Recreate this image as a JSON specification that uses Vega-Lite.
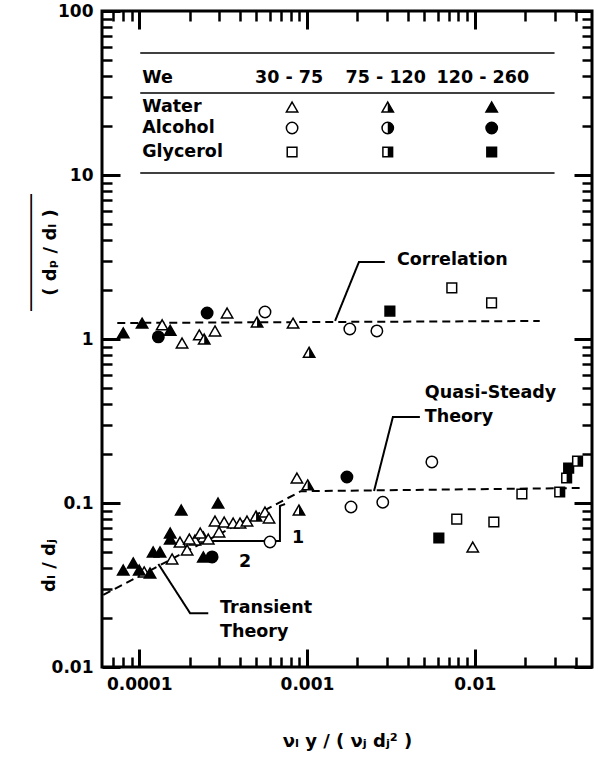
{
  "$schema": "https://vega.github.io/schema/vega-lite/v6.json",
  "width": 490,
  "height": 656,
  "autosize": {"type": "none"},
  "padding": {"left": 102, "top": 11, "right": 6, "bottom": 91},
  "background": "white",
  "config": {
    "view": {"stroke": "black", "strokeWidth": 3},
    "font": "DejaVu Sans",
    "axis": {
      "domain": false, "grid": false,
      "labelFont": "DejaVu Sans", "labelFontWeight": "bold", "labelFontSize": 17, "labelColor": "black",
      "titleFont": "DejaVu Sans", "titleFontWeight": "bold", "titleFontSize": 17, "titleColor": "black",
      "tickColor": "black"
    }
  },
  "datasets": {
    "points": [
      {"x": 8.03e-5, "y": 1.09, "liquid": "Water", "We": "120-260"},
      {"x": 1.04e-4, "y": 1.25, "liquid": "Water", "We": "120-260"},
      {"x": 1.37e-4, "y": 1.22, "liquid": "Water", "We": "30-75"},
      {"x": 1.53e-4, "y": 1.13, "liquid": "Water", "We": "120-260"},
      {"x": 1.30e-4, "y": 1.03, "liquid": "Alcohol", "We": "120-260"},
      {"x": 1.80e-4, "y": 0.945, "liquid": "Water", "We": "30-75"},
      {"x": 2.54e-4, "y": 1.44, "liquid": "Alcohol", "We": "120-260"},
      {"x": 3.34e-4, "y": 1.44, "liquid": "Water", "We": "30-75"},
      {"x": 2.83e-4, "y": 1.12, "liquid": "Water", "We": "30-75"},
      {"x": 2.28e-4, "y": 1.06, "liquid": "Water", "We": "30-75"},
      {"x": 2.44e-4, "y": 1.0, "liquid": "Water", "We": "75-120"},
      {"x": 5.04e-4, "y": 1.27, "liquid": "Water", "We": "75-120"},
      {"x": 5.62e-4, "y": 1.46, "liquid": "Alcohol", "We": "30-75"},
      {"x": 8.26e-4, "y": 1.25, "liquid": "Water", "We": "30-75"},
      {"x": 1.03e-3, "y": 0.83, "liquid": "Water", "We": "75-120"},
      {"x": 1.80e-3, "y": 1.15, "liquid": "Alcohol", "We": "30-75"},
      {"x": 2.61e-3, "y": 1.12, "liquid": "Alcohol", "We": "30-75"},
      {"x": 3.12e-3, "y": 1.48, "liquid": "Glycerol", "We": "120-260"},
      {"x": 7.30e-3, "y": 2.05, "liquid": "Glycerol", "We": "30-75"},
      {"x": 1.26e-2, "y": 1.66, "liquid": "Glycerol", "We": "30-75"},
      {"x": 1.78e-4, "y": 0.0906, "liquid": "Water", "We": "120-260"},
      {"x": 2.95e-4, "y": 0.100, "liquid": "Water", "We": "120-260"},
      {"x": 2.83e-4, "y": 0.0777, "liquid": "Water", "We": "30-75"},
      {"x": 3.21e-4, "y": 0.0766, "liquid": "Water", "We": "30-75"},
      {"x": 3.63e-4, "y": 0.0755, "liquid": "Water", "We": "30-75"},
      {"x": 3.99e-4, "y": 0.0755, "liquid": "Water", "We": "30-75"},
      {"x": 4.39e-4, "y": 0.0777, "liquid": "Water", "We": "30-75"},
      {"x": 4.97e-4, "y": 0.0833, "liquid": "Water", "We": "75-120"},
      {"x": 5.62e-4, "y": 0.0881, "liquid": "Water", "We": "30-75"},
      {"x": 5.94e-4, "y": 0.0810, "liquid": "Water", "We": "30-75"},
      {"x": 2.99e-4, "y": 0.0666, "liquid": "Water", "We": "30-75"},
      {"x": 2.41e-4, "y": 0.0621, "liquid": "Water", "We": "30-75"},
      {"x": 2.15e-4, "y": 0.0595, "liquid": "Water", "We": "30-75"},
      {"x": 6.02e-4, "y": 0.0578, "liquid": "Alcohol", "We": "30-75"},
      {"x": 2.72e-4, "y": 0.0469, "liquid": "Alcohol", "We": "120-260"},
      {"x": 2.41e-4, "y": 0.0469, "liquid": "Water", "We": "120-260"},
      {"x": 1.75e-4, "y": 0.0578, "liquid": "Water", "We": "30-75"},
      {"x": 1.99e-4, "y": 0.0603, "liquid": "Water", "We": "30-75"},
      {"x": 2.31e-4, "y": 0.0656, "liquid": "Water", "We": "30-75"},
      {"x": 2.58e-4, "y": 0.0603, "liquid": "Water", "We": "30-75"},
      {"x": 1.93e-4, "y": 0.0517, "liquid": "Water", "We": "30-75"},
      {"x": 1.57e-4, "y": 0.0456, "liquid": "Water", "We": "30-75"},
      {"x": 1.07e-4, "y": 0.0380, "liquid": "Water", "We": "30-75"},
      {"x": 1.53e-4, "y": 0.0656, "liquid": "Water", "We": "120-260"},
      {"x": 1.53e-4, "y": 0.0603, "liquid": "Water", "We": "120-260"},
      {"x": 1.21e-4, "y": 0.0503, "liquid": "Water", "We": "120-260"},
      {"x": 1.33e-4, "y": 0.0503, "liquid": "Water", "We": "120-260"},
      {"x": 8.03e-5, "y": 0.039, "liquid": "Water", "We": "120-260"},
      {"x": 9.21e-5, "y": 0.0431, "liquid": "Water", "We": "120-260"},
      {"x": 1.0e-4, "y": 0.039, "liquid": "Water", "We": "120-260"},
      {"x": 1.16e-4, "y": 0.0374, "liquid": "Water", "We": "120-260"},
      {"x": 8.71e-4, "y": 0.142, "liquid": "Water", "We": "30-75"},
      {"x": 1.01e-3, "y": 0.129, "liquid": "Water", "We": "75-120"},
      {"x": 8.96e-4, "y": 0.0906, "liquid": "Water", "We": "75-120"},
      {"x": 1.73e-3, "y": 0.144, "liquid": "Alcohol", "We": "120-260"},
      {"x": 1.83e-3, "y": 0.0946, "liquid": "Alcohol", "We": "30-75"},
      {"x": 2.83e-3, "y": 0.101, "liquid": "Alcohol", "We": "30-75"},
      {"x": 5.55e-3, "y": 0.178, "liquid": "Alcohol", "We": "30-75"},
      {"x": 1.91e-2, "y": 0.1135, "liquid": "Glycerol", "We": "30-75"},
      {"x": 7.81e-3, "y": 0.0798, "liquid": "Glycerol", "We": "30-75"},
      {"x": 1.30e-2, "y": 0.0766, "liquid": "Glycerol", "We": "30-75"},
      {"x": 6.11e-3, "y": 0.0612, "liquid": "Glycerol", "We": "120-260"},
      {"x": 9.73e-3, "y": 0.0539, "liquid": "Water", "We": "30-75"},
      {"x": 3.21e-2, "y": 0.1167, "liquid": "Glycerol", "We": "75-120"},
      {"x": 3.53e-2, "y": 0.142, "liquid": "Glycerol", "We": "75-120"},
      {"x": 3.63e-2, "y": 0.163, "liquid": "Glycerol", "We": "120-260"},
      {"x": 4.10e-2, "y": 0.180, "liquid": "Glycerol", "We": "75-120"}
    ],
    "legendSymbols": [
      {"x": 8.15e-4, "y": 25.98, "liquid": "Water", "We": "30-75"},
      {"x": 3.03e-3, "y": 25.98, "liquid": "Water", "We": "75-120"},
      {"x": 1.262e-2, "y": 25.98, "liquid": "Water", "We": "120-260"},
      {"x": 8.15e-4, "y": 19.35, "liquid": "Alcohol", "We": "30-75"},
      {"x": 3.03e-3, "y": 19.35, "liquid": "Alcohol", "We": "75-120"},
      {"x": 1.262e-2, "y": 19.35, "liquid": "Alcohol", "We": "120-260"},
      {"x": 8.15e-4, "y": 13.81, "liquid": "Glycerol", "We": "30-75"},
      {"x": 3.03e-3, "y": 13.81, "liquid": "Glycerol", "We": "75-120"},
      {"x": 1.262e-2, "y": 13.81, "liquid": "Glycerol", "We": "120-260"}
    ],
    "lines": [
      {"line": "correlation", "kind": "theory", "i": 0, "x": 7.4e-5, "y": 1.252},
      {"line": "correlation", "kind": "theory", "i": 1, "x": 0.0244, "y": 1.288},
      {"line": "transient-quasi", "kind": "theory", "i": 0, "x": 6.11e-5, "y": 0.0275},
      {"line": "transient-quasi", "kind": "theory", "i": 1, "x": 9.2e-4, "y": 0.118},
      {"line": "transient-quasi", "kind": "theory", "i": 2, "x": 0.0422, "y": 0.1234},
      {"line": "corrLeader", "kind": "leader", "i": 0, "x": 1.47e-3, "y": 1.288},
      {"line": "corrLeader", "kind": "leader", "i": 1, "x": 2.04e-3, "y": 2.948},
      {"line": "corrLeader", "kind": "leader", "i": 2, "x": 2.91e-3, "y": 2.948},
      {"line": "quasiLeader", "kind": "leader", "i": 0, "x": 2.51e-3, "y": 0.1183},
      {"line": "quasiLeader", "kind": "leader", "i": 1, "x": 3.25e-3, "y": 0.334},
      {"line": "quasiLeader", "kind": "leader", "i": 2, "x": 4.71e-3, "y": 0.334},
      {"line": "transLeader", "kind": "leader", "i": 0, "x": 1.30e-4, "y": 0.0425},
      {"line": "transLeader", "kind": "leader", "i": 1, "x": 2.01e-4, "y": 0.0213},
      {"line": "transLeader", "kind": "leader", "i": 2, "x": 2.58e-4, "y": 0.0213},
      {"line": "bracket", "kind": "leader", "i": 0, "x": 1.96e-4, "y": 0.0586},
      {"line": "bracket", "kind": "leader", "i": 1, "x": 6.90e-4, "y": 0.0586},
      {"line": "bracket", "kind": "leader", "i": 2, "x": 6.90e-4, "y": 0.0959},
      {"line": "bracket", "kind": "leader", "i": 3, "x": 7.40e-4, "y": 0.0986}
    ],
    "legendRules": [
      {"x": 1.014e-4, "x2": 0.0299, "y": 55.4},
      {"x": 1.014e-4, "x2": 0.0299, "y": 31.6},
      {"x": 1.014e-4, "x2": 0.0299, "y": 10.28}
    ],
    "notes": [
      {"text": "Correlation", "x": 3.44e-3, "y": 3.03},
      {"text": "Quasi-Steady", "x": 5.04e-3, "y": 0.469},
      {"text": "Theory", "x": 5.04e-3, "y": 0.334},
      {"text": "Transient", "x": 3.03e-4, "y": 0.0229},
      {"text": "Theory", "x": 3.03e-4, "y": 0.0163},
      {"text": "1", "x": 8.15e-4, "y": 0.0612},
      {"text": "2", "x": 3.94e-4, "y": 0.0437},
      {"text": "We", "x": 1.042e-4, "y": 39.0},
      {"text": "Water", "x": 1.042e-4, "y": 25.98},
      {"text": "Alcohol", "x": 1.042e-4, "y": 19.35},
      {"text": "Glycerol", "x": 1.042e-4, "y": 13.81}
    ],
    "legendHeaders": [
      {"text": "30 - 75", "x": 7.82e-4, "y": 39.0},
      {"text": "75 - 120", "x": 2.95e-3, "y": 39.0},
      {"text": "120 - 260", "x": 1.117e-2, "y": 39.0}
    ]
  },
  "resolve": {
    "scale": {"shape": "independent", "fill": "independent", "strokeDash": "independent"},
    "axis": {"x": "independent", "y": "independent"}
  },
  "layer": [
    {
      "data": {"name": "lines"},
      "mark": {"type": "line", "color": "black", "strokeWidth": 2},
      "encoding": {
        "x": {"field": "x", "type": "quantitative", "scale": {"type": "log", "domain": [6e-5, 0.05], "nice": false},
          "axis": {"orient": "bottom", "values": [0.0001, 0.001, 0.01], "ticks": false, "labelPadding": 9, "format": "~g",
            "title": "νₗ y / ( νⱼ dⱼ² )", "titlePadding": 40, "titleFontSize": 18}},
        "y": {"field": "y", "type": "quantitative", "scale": {"type": "log", "domain": [0.01, 100], "nice": false},
          "axis": {"orient": "left", "values": [0.01, 0.1, 1, 10, 100], "ticks": false, "labelPadding": 9, "format": "~g",
            "title": ["‾‾‾‾‾‾‾‾‾‾‾‾‾", "( dₚ  /  dₗ )"], "titleFontSize": 18, "titleAngle": -90, "titleX": -64, "titleY": 241, "titleAlign": "center", "titleBaseline": "middle", "titleLineHeight": 12}},
        "detail": {"field": "line"},
        "order": {"field": "i", "type": "quantitative"},
        "strokeDash": {"field": "kind", "type": "nominal", "scale": {"domain": ["theory", "leader"], "range": [[8, 5], [1, 0]]}, "legend": null}
      }
    },
    {
      "data": {"name": "legendRules"},
      "mark": {"type": "rule", "color": "black", "strokeWidth": 1.5},
      "encoding": {
        "x": {"field": "x", "type": "quantitative", "scale": {"type": "log", "domain": [6e-5, 0.05], "nice": false},
          "axis": {"orient": "bottom", "values": [0.0001, 0.001, 0.01], "labels": false, "tickSize": -18, "tickWidth": 3, "title": null}},
        "x2": {"field": "x2"},
        "y": {"field": "y", "type": "quantitative", "scale": {"type": "log", "domain": [0.01, 100], "nice": false},
          "axis": {"orient": "left", "values": [0.01, 0.1, 1, 10, 100], "labels": false, "tickSize": -18, "tickWidth": 3, "title": null}}
      }
    },
    {
      "data": {"name": "points"},
      "mark": {"type": "point", "filled": true, "stroke": "black", "strokeWidth": 1.5, "size": 130, "opacity": 1, "fillOpacity": 1},
      "encoding": {
        "x": {"field": "x", "type": "quantitative", "scale": {"type": "log", "domain": [6e-5, 0.05], "nice": false},
          "axis": {"orient": "bottom", "values": [7e-5, 8e-5, 9e-5, 2e-4, 3e-4, 4e-4, 5e-4, 6e-4, 7e-4, 8e-4, 9e-4, 0.002, 0.003, 0.004, 0.005, 0.006, 0.007, 0.008, 0.009, 0.02, 0.03, 0.04], "labels": false, "tickSize": -10, "tickWidth": 2.5, "title": null}},
        "y": {"field": "y", "type": "quantitative", "scale": {"type": "log", "domain": [0.01, 100], "nice": false},
          "axis": {"orient": "left", "values": [0.02, 0.03, 0.04, 0.05, 0.06, 0.07, 0.08, 0.09, 0.2, 0.3, 0.4, 0.5, 0.6, 0.7, 0.8, 0.9, 2, 3, 4, 5, 6, 7, 8, 9, 20, 30, 40, 50, 60, 70, 80, 90], "labels": false, "tickSize": -10, "tickWidth": 2.5, "title": null}},
        "shape": {"field": "liquid", "type": "nominal", "scale": {"domain": ["Water", "Alcohol", "Glycerol"], "range": ["M0,-0.87L1,0.87L-1,0.87Z", "M-1,0A1,1,0,1,1,1,0A1,1,0,1,1,-1,0Z", "M-0.85,-0.85L0.85,-0.85L0.85,0.85L-0.85,0.85Z"]}, "legend": null},
        "fill": {"field": "We", "type": "nominal", "scale": {"domain": ["30-75", "75-120", "120-260"], "range": ["white", "white", "black"]}, "legend": null}
      }
    },
    {
      "data": {"name": "points"},
      "transform": [{"filter": "datum.We == '75-120'"}],
      "mark": {"type": "point", "filled": true, "fill": "black", "strokeWidth": 0, "size": 130, "opacity": 1, "fillOpacity": 1},
      "encoding": {
        "x": {"field": "x", "type": "quantitative", "scale": {"type": "log", "domain": [6e-5, 0.05], "nice": false},
          "axis": {"orient": "top", "values": [0.0001, 0.001, 0.01], "labels": false, "tickSize": -18, "tickWidth": 3, "title": null}},
        "y": {"field": "y", "type": "quantitative", "scale": {"type": "log", "domain": [0.01, 100], "nice": false},
          "axis": {"orient": "right", "values": [0.01, 0.1, 1, 10, 100], "labels": false, "tickSize": -18, "tickWidth": 3, "title": null}},
        "shape": {"field": "liquid", "type": "nominal", "scale": {"domain": ["Water", "Alcohol", "Glycerol"], "range": ["M0,-0.87L1,0.87L0,0.87Z", "M0,-1A1,1,0,0,1,0,1Z", "M0,-0.85L0.85,-0.85L0.85,0.85L0,0.85Z"]}, "legend": null}
      }
    },
    {
      "data": {"name": "legendSymbols"},
      "mark": {"type": "point", "filled": true, "stroke": "black", "strokeWidth": 1.5, "size": 130, "opacity": 1, "fillOpacity": 1},
      "encoding": {
        "x": {"field": "x", "type": "quantitative", "scale": {"type": "log", "domain": [6e-5, 0.05], "nice": false},
          "axis": {"orient": "top", "values": [7e-5, 8e-5, 9e-5, 2e-4, 3e-4, 4e-4, 5e-4, 6e-4, 7e-4, 8e-4, 9e-4, 0.002, 0.003, 0.004, 0.005, 0.006, 0.007, 0.008, 0.009, 0.02, 0.03, 0.04], "labels": false, "tickSize": -10, "tickWidth": 2.5, "title": null}},
        "y": {"field": "y", "type": "quantitative", "scale": {"type": "log", "domain": [0.01, 100], "nice": false},
          "axis": {"orient": "right", "values": [0.02, 0.03, 0.04, 0.05, 0.06, 0.07, 0.08, 0.09, 0.2, 0.3, 0.4, 0.5, 0.6, 0.7, 0.8, 0.9, 2, 3, 4, 5, 6, 7, 8, 9, 20, 30, 40, 50, 60, 70, 80, 90], "labels": false, "tickSize": -10, "tickWidth": 2.5, "title": null}},
        "shape": {"field": "liquid", "type": "nominal", "scale": {"domain": ["Water", "Alcohol", "Glycerol"], "range": ["M0,-0.87L1,0.87L-1,0.87Z", "M-1,0A1,1,0,1,1,1,0A1,1,0,1,1,-1,0Z", "M-0.85,-0.85L0.85,-0.85L0.85,0.85L-0.85,0.85Z"]}, "legend": null},
        "fill": {"field": "We", "type": "nominal", "scale": {"domain": ["30-75", "75-120", "120-260"], "range": ["white", "white", "black"]}, "legend": null}
      }
    },
    {
      "data": {"name": "legendSymbols"},
      "transform": [{"filter": "datum.We == '75-120'"}],
      "mark": {"type": "point", "filled": true, "fill": "black", "strokeWidth": 0, "size": 130, "opacity": 1, "fillOpacity": 1},
      "encoding": {
        "x": {"field": "x", "type": "quantitative", "scale": {"type": "log", "domain": [6e-5, 0.05], "nice": false}, "axis": null},
        "y": {"field": "y", "type": "quantitative", "scale": {"type": "log", "domain": [0.01, 100], "nice": false},
          "axis": {"orient": "left", "labels": false, "ticks": false, "values": [], "title": "dₗ  /  dⱼ", "titleFontSize": 18, "titleAngle": -90, "titleX": -53, "titleY": 554, "titleAlign": "center", "titleBaseline": "middle"}},
        "shape": {"field": "liquid", "type": "nominal", "scale": {"domain": ["Water", "Alcohol", "Glycerol"], "range": ["M0,-0.87L1,0.87L0,0.87Z", "M0,-1A1,1,0,0,1,0,1Z", "M0,-0.85L0.85,-0.85L0.85,0.85L0,0.85Z"]}, "legend": null}
      }
    },
    {
      "data": {"name": "notes"},
      "mark": {"type": "text", "align": "left", "baseline": "middle", "font": "DejaVu Sans", "fontWeight": "bold", "fontSize": 17.5, "color": "black"},
      "encoding": {
        "x": {"field": "x", "type": "quantitative", "scale": {"type": "log", "domain": [6e-5, 0.05], "nice": false}, "axis": null},
        "y": {"field": "y", "type": "quantitative", "scale": {"type": "log", "domain": [0.01, 100], "nice": false}, "axis": null},
        "text": {"field": "text"}
      }
    },
    {
      "data": {"name": "legendHeaders"},
      "mark": {"type": "text", "align": "center", "baseline": "middle", "font": "DejaVu Sans", "fontWeight": "bold", "fontSize": 17.5, "color": "black"},
      "encoding": {
        "x": {"field": "x", "type": "quantitative", "scale": {"type": "log", "domain": [6e-5, 0.05], "nice": false}, "axis": null},
        "y": {"field": "y", "type": "quantitative", "scale": {"type": "log", "domain": [0.01, 100], "nice": false}, "axis": null},
        "text": {"field": "text"}
      }
    }
  ]
}
